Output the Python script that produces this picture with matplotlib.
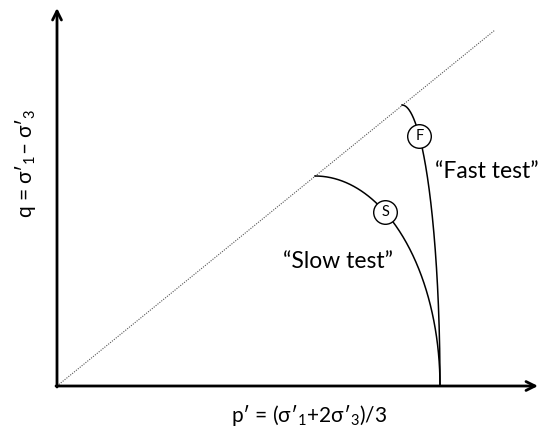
"""
Stress paths in q-p' space: slow and fast test
"""

import numpy as np
import matplotlib.pyplot as plt

plt.rcParams["font.family"] = ["Lato", "DejaVu Sans"]
plt.rcParams["mathtext.fontset"] = "custom"
plt.rcParams["mathtext.rm"] = "Lato"
plt.rcParams["mathtext.it"] = "Lato"

# failure line end (in axis units)
line_end = [438, 356]
# common start of both paths on the p' axis
p0 = 383
# peak (failure) points of each path
slow_peak = [258, 210]
fast_peak = [345, 281]
# where the path labels sit along each curve (parameter 0..1)
marks = {"S": 0.38, "F": 0.30}


def path(peak, p0, n=200):
    # quarter ellipse from the peak down to p0 on the axis
    t = np.linspace(0, np.pi / 2, n)
    x = peak[0] + (p0 - peak[0]) * np.sin(t)
    y = peak[1] * np.cos(t)
    return x, y


fig = plt.figure(figsize=(5.4, 4.28), dpi=100)
ax = fig.add_axes([0, 0, 1, 1])
ax.set_xlim(-57, 483)
ax.set_ylim(-42, 386)
ax.axis("off")

# axes with arrows
ax.annotate("", xy=(481, 0), xytext=(-1, 0),
            arrowprops=dict(arrowstyle="->", lw=2, color="black",
                            mutation_scale=16, shrinkA=0, shrinkB=0))
ax.annotate("", xy=(0, 378), xytext=(0, -1),
            arrowprops=dict(arrowstyle="->", lw=2, color="black",
                            mutation_scale=16, shrinkA=0, shrinkB=0))

# critical state line
ax.plot([0, line_end[0]], [0, line_end[1]], ls=(0, (1, 1.2)), lw=0.8, color="#555555")

for name, peak in [("S", slow_peak), ("F", fast_peak)]:
    x, y = path(peak, p0)
    ax.plot(x, y, color="black", lw=1.1)
    t = marks[name] * np.pi / 2
    mx = peak[0] + (p0 - peak[0]) * np.sin(t)
    my = peak[1] * np.cos(t)
    ax.plot(mx, my, "o", ms=17, mfc="white", mec="black", mew=1.0)
    ax.text(mx, my, name, ha="center", va="center", fontsize=10.5)

ax.text(281, 124, "\u201cSlow test\u201d", ha="center", va="center", fontsize=16.5)
ax.text(378, 215, "\u201cFast test\u201d", ha="left", va="center", fontsize=16.5)

ax.text(252, -29, "p\u2032 = (\u03c3\u2032$_1$+2\u03c3\u2032$_3$)/3",
        ha="center", va="center", fontsize=15)
ax.text(-32, 223, "q = \u03c3\u2032$_1$\u2013 \u03c3\u2032$_3$",
        ha="center", va="center", fontsize=15, rotation=90)

plt.savefig("out.png")
